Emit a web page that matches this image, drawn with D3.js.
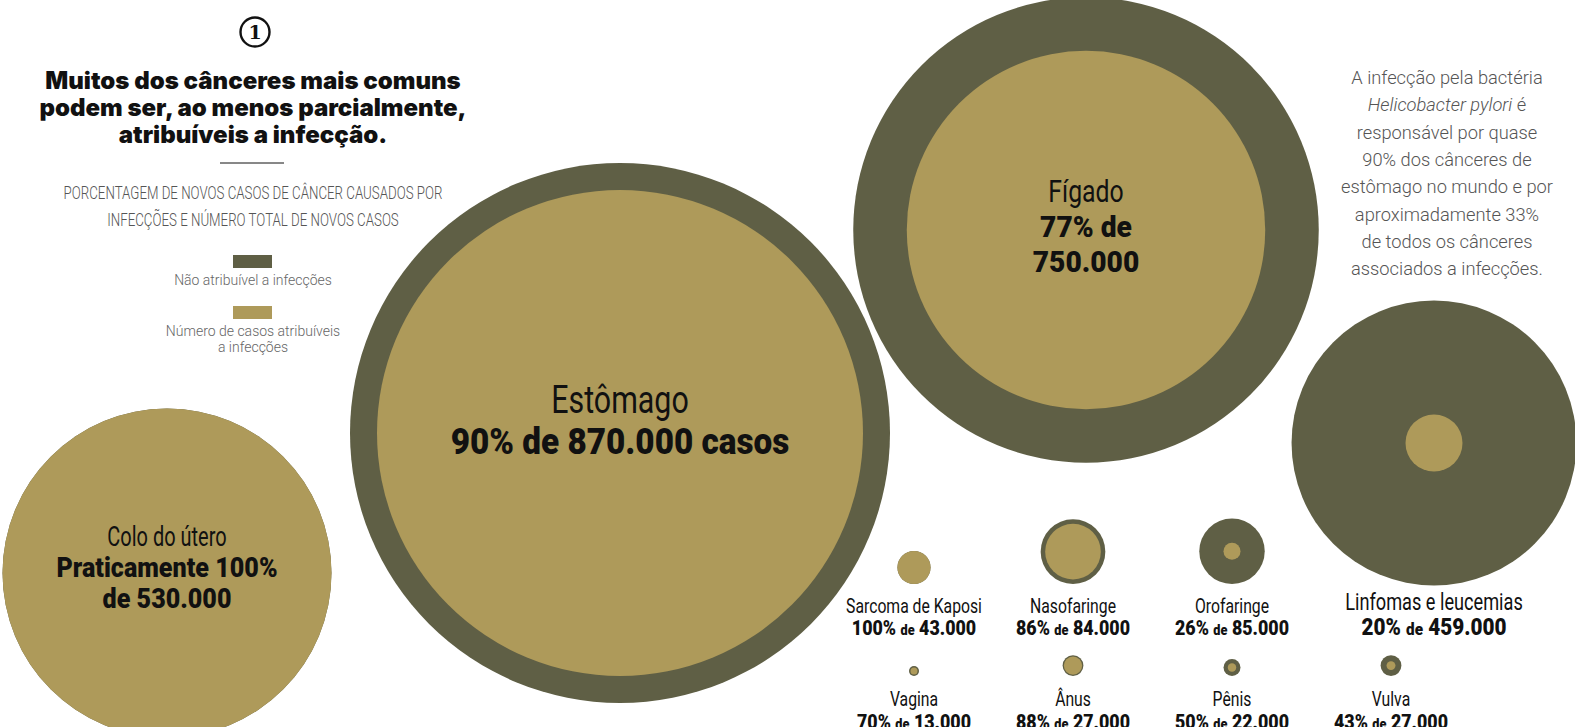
<!DOCTYPE html>
<html>
<head>
<meta charset="utf-8">
<script src="https://cdn.jsdelivr.net/npm/d3@7"></script>
<style>
  html, body { margin: 0; padding: 0; background: #fff; }
  svg { display: block; }
</style>
</head>
<body>
<svg id="chart"></svg>
<script>
var W = 1575, H = 727;
var DARK = "#5f5f45", GOLD = "#ae9a5a";

// data
var bigCancers = ["Estômago", "Fígado", "Colo do útero", "Linfomas e leucemias"];
var bigTotals = [870000, 750000, 530000, 459000];
var bigPct = [0.90, 0.77, 1.00, 0.20];
var bigValueText = [["90% de 870.000 casos"], ["77% de", "750.000"], ["Praticamente 100%", "de 530.000"], ["20% @de@ 459.000"]];

var smallCancers = ["Sarcoma de Kaposi", "Nasofaringe", "Orofaringe", "Vagina", "Ânus", "Pênis", "Vulva"];
var smallTotals = [43000, 84000, 85000, 13000, 27000, 22000, 27000];
var smallPct = [1.00, 0.86, 0.26, 0.70, 0.88, 0.50, 0.43];
var smallPctText = ["100%", "86%", "26%", "70%", "88%", "50%", "43%"];
var smallTotalText = ["43.000", "84.000", "85.000", "13.000", "27.000", "22.000", "27.000"];

var titleLines = ["Muitos dos cânceres mais comuns", "podem ser, ao menos parcialmente,", "atribuíveis a infecção."];
var subtitleLines = ["PORCENTAGEM DE NOVOS CASOS DE CÂNCER CAUSADOS POR", "INFECÇÕES E NÚMERO TOTAL DE NOVOS CASOS"];
var legendLabels = [["Não atribuível a infecções"], ["Número de casos atribuíveis", "a infecções"]];
var noteLines = ["A infecção pela bactéria", "@Helicobacter pylori@ é", "responsável por quase", "90% dos cânceres de",
  "estômago no mundo e por", "aproximadamente 33%", "de todos os cânceres", "associados a infecções."];

// layout of the big bubbles (free placement in the original)
var bigCenters = [[620, 433], [1086, 230], [167, 573], [1434, 443]];

var svg = d3.select("#chart").attr("width", W).attr("height", H);

var rBig = d3.scaleLinear().domain([0, 870000]).range([0, 270]);
var rSmall = d3.scaleLinear().domain([0, 100000]).range([0, 38.5]);

var cols = d3.scalePoint().domain(d3.range(4)).range([914, 1391]);
var rowBottom = [584, 676];

var COND = "Roboto, 'Liberation Sans', sans-serif";

function condText(g, x, y, str, size, weight, sx) {
  return g.append("text")
    .attr("transform", "translate(" + x + "," + y + ") scale(" + sx + ",1)")
    .attr("text-anchor", "middle")
    .style("font-family", COND)
    .style("font-size", size + "px")
    .style("font-weight", weight)
    .attr("fill", "#111")
    .text(str);
}

// "@...@" marks a part set in a smaller size
function splitSmall(t, str, smallSize) {
  str.split("@").forEach(function(part, k) {
    if (!part) return;
    var s = t.append("tspan").text(part);
    if (k % 2) s.style("font-size", smallSize + "px");
  });
}

// big bubbles
var big = bigCancers.map(function(name, i) {
  return { name: name, total: bigTotals[i], pct: bigPct[i], lines: bigValueText[i], cx: bigCenters[i][0], cy: bigCenters[i][1] };
});

var gBig = svg.append("g").attr("class", "big");
var bg = gBig.selectAll("g.bubble").data(big).enter().append("g")
  .attr("class", "bubble")
  .attr("transform", function(d) { return "translate(" + d.cx + "," + d.cy + ")"; });

bg.append("circle").attr("r", function(d) { return rBig(d.total); }).attr("fill", DARK);
bg.append("circle").attr("r", function(d) { return rBig(d.total * d.pct); }).attr("fill", GOLD);

// label settings for the big ones
var bigLabelCfg = [
  { y: -20, size: 38, nsx: 0.8, vsize: 37, vsx: 0.9, step: 41 },
  { y: -28, size: 31, nsx: 0.8, vsize: 30, vsx: 0.94, step: 35 },
  { y: -27, size: 27, nsx: 0.74, vsize: 27, vsx: 0.93, step: 31 },
  { y: 167, size: 23, nsx: 0.79, vsize: 23, vsx: 0.9, step: 25 }
];
bg.each(function(d, i) {
  var g = d3.select(this), c = bigLabelCfg[i];
  condText(g, 0, c.y, d.name, c.size, 400, c.nsx);
  d.lines.forEach(function(line, j) {
    var t = condText(g, 0, c.y + c.step * (j + 1), "", c.vsize, 900, c.vsx);
    splitSmall(t, line, Math.round(c.vsize * 0.72));
  });
});

// small bubbles
var small = smallCancers.map(function(name, i) {
  var row = i < 3 ? 0 : 1, col = i < 3 ? i : i - 3;
  return { name: name, total: smallTotals[i], pct: smallPct[i], pctText: smallPctText[i], totText: smallTotalText[i], row: row, col: col };
});

var gSmall = svg.append("g").attr("class", "small");
var sg = gSmall.selectAll("g.bubble").data(small).enter().append("g")
  .attr("class", "bubble")
  .attr("transform", function(d) { return "translate(" + cols(d.col) + "," + rowBottom[d.row] + ")"; });

sg.append("circle").attr("cy", function(d) { return -rSmall(d.total); })
  .attr("r", function(d) { return rSmall(d.total); }).attr("fill", DARK);
sg.append("circle").attr("cy", function(d) { return -rSmall(d.total); })
  .attr("r", function(d) { return rSmall(d.total * d.pct); }).attr("fill", GOLD);

sg.each(function(d) {
  var g = d3.select(this);
  condText(g, 0, d.row ? 30 : 29, d.name, 21, 400, 0.75);
  var t = condText(g, 0, d.row ? 53 : 51, "", 21, 900, 0.85);
  splitSmall(t, d.pctText + " @de@ " + d.totText, 15);
});

// header: circled number
svg.append("circle").attr("cx", 255).attr("cy", 32).attr("r", 14.5)
  .attr("fill", "none").attr("stroke", "#111").attr("stroke-width", 2.4);
svg.append("text").attr("x", 255).attr("y", 39).attr("text-anchor", "middle")
  .style("font-family", "'DejaVu Serif', serif").style("font-size", "19px").style("font-weight", 700)
  .attr("fill", "#111").text("1");

svg.append("g").selectAll("text").data(titleLines).enter().append("text")
  .attr("x", 253).attr("y", function(d, i) { return 89 + i * 27; })
  .attr("text-anchor", "middle")
  .style("font-family", "Inter, sans-serif").style("font-size", "24px").style("font-weight", 900)
  .attr("fill", "#111").text(function(d) { return d; });

svg.append("line").attr("x1", 220).attr("x2", 284).attr("y1", 163).attr("y2", 163)
  .attr("stroke", "#111").attr("stroke-width", 1);

var gSub = svg.append("g");
subtitleLines.forEach(function(line, i) {
  condText(gSub, 253, 199 + i * 27, line, 19, 300, 0.7).attr("fill", "#555");
});

// legend
var legColors = [DARK, GOLD];
var gLeg = svg.append("g");
legendLabels.forEach(function(lines, i) {
  var y0 = 255 + i * 51;
  gLeg.append("rect").attr("x", 233).attr("y", y0).attr("width", 39).attr("height", 13).attr("fill", legColors[i]);
  lines.forEach(function(l, j) {
    gLeg.append("text").attr("x", 253).attr("y", y0 + 30 + j * 16).attr("text-anchor", "middle")
      .style("font-family", "Roboto, sans-serif").style("font-size", "14px").style("font-weight", 300)
      .attr("fill", "#666").text(l);
  });
});

// side note
var gNote = svg.append("g");
noteLines.forEach(function(line, i) {
  var t = gNote.append("text").attr("x", 1447).attr("y", 84 + i * 27.3).attr("text-anchor", "middle")
    .style("font-family", "Roboto, sans-serif").style("font-size", "18.3px").style("font-weight", 300)
    .attr("fill", "#555");
  line.split("@").forEach(function(part, k) {
    if (!part) return;
    t.append("tspan").style("font-style", k % 2 ? "italic" : "normal").text(part);
  });
});
</script>
</body>
</html>
